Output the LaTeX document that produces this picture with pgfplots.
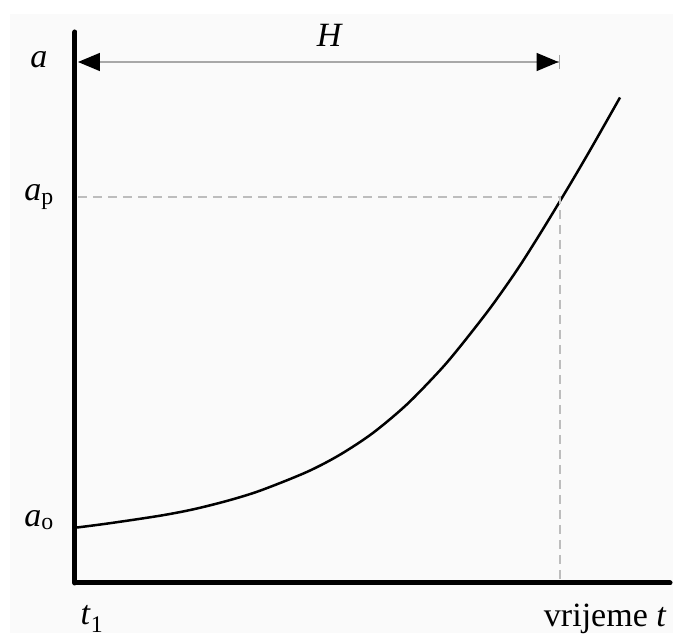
\documentclass[border=0pt]{standalone}
\usepackage{pgfplots}
\pgfplotsset{compat=1.18}
\usepackage{fontspec}
\setmainfont{Liberation Serif}
\usetikzlibrary{arrows.meta}
\definecolor{bgc}{HTML}{FAFAFA}
\definecolor{dashc}{HTML}{BDBDBD}
\definecolor{arrc}{HTML}{A8A8A8}
\begin{document}
\begin{tikzpicture}
\fill[white] (-75pt,-50pt) rectangle (598pt,583pt);
\fill[bgc] (-65pt,-50pt) rectangle (598pt,569pt);
\begin{axis}[
  scale only axis, width=595pt, height=551pt,
  xmin=0, xmax=595, ymin=0, ymax=551,
  axis x line=bottom, axis y line=left,
  axis line style={-, line width=5pt, line cap=round, black},
  xtick=\empty, ytick=\empty,
  clip=false,
  font=\fontsize{34}{40}\selectfont,
]
\addplot[black, line width=2.5pt, smooth] coordinates {
(2,55.5) (35,59.8) (85,67.3) (118,73.6) (152,82.1) (185,92.3) (232,111.1)
(265,128.3) (298,150.1) (332,178.7) (365,212.7) (385,236.3) (415,274.7)
(442,313) (465,349.1) (487,385.2) (502,410.4) (518,437.9) (545,485.5)};
\addplot[dashc, line width=1.6pt, dash pattern=on 9pt off 6pt] coordinates {(3,386) (485,386) (485,0)};
\draw[arrc, line width=1.6pt, {Triangle[length=22pt,width=18pt,black]}-{Triangle[length=22pt,width=18pt,black]Bar[width=14pt,line width=1.5pt]}]
  (axis cs:3,521) -- (axis cs:485,521);
\node at (axis cs:255,548) {\textit{H}};
\node at (axis cs:-36,523) {\textit{a}};
\node at (axis cs:-36,386) {\textit{a}\textsubscript{p}};
\node at (axis cs:-36,63) {\textit{a}\textsubscript{o}};
\node at (axis cs:17,-36) {\textit{t}\textsubscript{1}};
\node[anchor=east] at (axis cs:595,-36) {vrijeme \textit{t}};
\end{axis}
\end{tikzpicture}
\end{document}
